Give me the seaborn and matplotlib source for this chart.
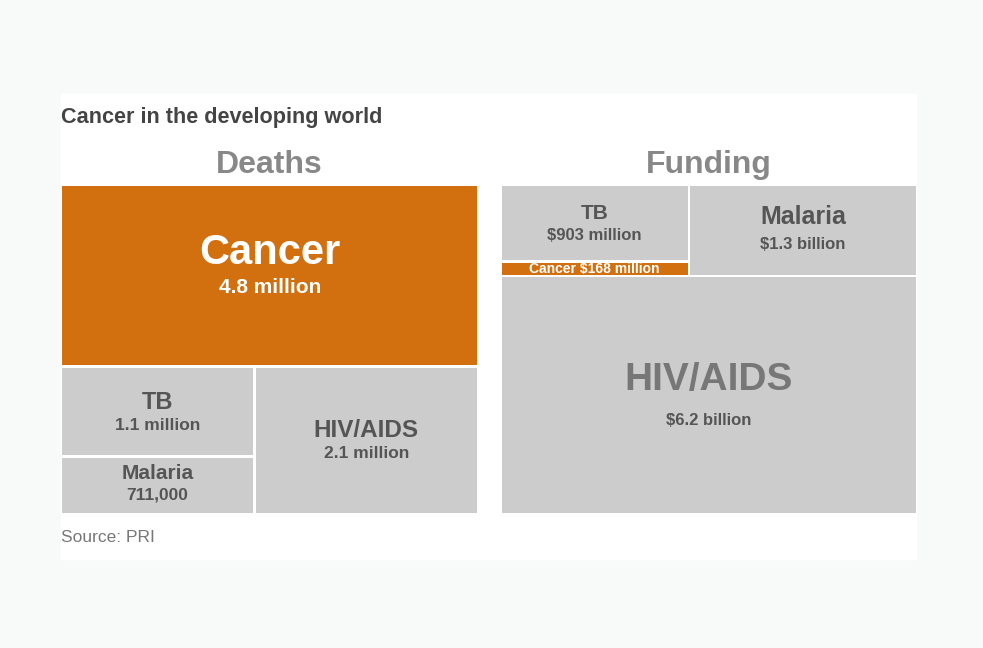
import matplotlib.pyplot as plt
import matplotlib.patches as mpatches
import seaborn as sns

# Dados
categorias = ['Cancer', 'TB', 'Malaria', 'HIV/AIDS']
mortes = [4.8, 1.1, 0.711, 2.1]               # milhoes
mortes_txt = ['4.8 million', '1.1 million', '711,000', '2.1 million']
financiamento = [0.168, 0.903, 1.3, 6.2]      # bilhoes de dolares
financ_txt = ['$168 million', '$903 million', '$1.3 billion', '$6.2 billion']

sns.set_theme(style="white")
plt.rcParams['font.family'] = ['Liberation Sans', 'DejaVu Sans']

LARANJA = '#D2700F'
CINZA = '#CCCCCC'
GAP = 2.5

fig = plt.figure(figsize=(9.83, 6.48), dpi=100)
fig.patch.set_facecolor('#F8FAFA')
ax = fig.add_axes([0, 0, 1, 1])
ax.set_xlim(0, 983)
ax.set_ylim(648, 0)
ax.axis('off')

# painel branco
ax.add_patch(mpatches.Rectangle((61, 94), 855, 465, color='white', zorder=0))


def caixa(x0, y0, x1, y1, cor):
    # desenha um retangulo com um pequeno espaco branco entre vizinhos
    ax.add_patch(mpatches.Rectangle((x0 + GAP / 2, y0 + GAP / 2),
                                    x1 - x0 - GAP, y1 - y0 - GAP,
                                    facecolor=cor, edgecolor='none', zorder=1))
    return (x0 + x1) / 2, (y0 + y1) / 2


def rotulo(cx, cy, nome, valor, dy_nome, dy_valor, tam_nome, tam_valor, cor_nome, cor_valor):
    ax.text(cx, cy + dy_nome, nome, ha='center', va='center', fontsize=tam_nome,
            fontweight='bold', color=cor_nome, zorder=2)
    ax.text(cx, cy + dy_valor, valor, ha='center', va='center', fontsize=tam_valor,
            fontweight='bold', color=cor_valor, zorder=2)


# ---------- Mortes ----------
X0, X1, Y0, Y1 = 61, 478.5, 184.5, 514.5
c, tb, mal, hiv = mortes
total = sum(mortes)
y_corte = Y0 + (Y1 - Y0) * c / total
x_corte = X0 + (X1 - X0) * (tb + mal) / (tb + mal + hiv)
y_corte2 = y_corte + (Y1 - y_corte) * tb / (tb + mal)

cx, cy = caixa(X0, Y0, X1, y_corte, LARANJA)
rotulo(cx, cy, categorias[0], mortes_txt[0], -22, 12, 30, 15, 'white', 'white')
cx, cy = caixa(X0, y_corte, x_corte, y_corte2, CINZA)
rotulo(cx, cy, categorias[1], mortes_txt[1], -9, 14, 17, 12.5, '#555555', '#555555')
cx, cy = caixa(X0, y_corte2, x_corte, Y1, CINZA)
rotulo(cx, cy, categorias[2], mortes_txt[2], -12, 10, 15, 12.5, '#555555', '#555555')
cx, cy = caixa(x_corte, y_corte, X1, Y1, CINZA)
rotulo(cx, cy, categorias[3], mortes_txt[3], -10, 13, 17.5, 12.5, '#555555', '#555555')

# ---------- Financiamento ----------
F0, F1 = 500.5, 917.5
fc, ftb, fmal, fhiv = financiamento
ftotal = sum(financiamento)
y_topo = Y0 + (Y1 - Y0) * (fc + ftb + fmal) / ftotal
x_meio = F0 + (F1 - F0) * (fc + ftb) / (fc + ftb + fmal)
y_tb = Y0 + (y_topo - Y0) * ftb / (ftb + fc)

cx, cy = caixa(F0, Y0, x_meio, y_tb, CINZA)
rotulo(cx, cy, categorias[1], financ_txt[1], -9, 13, 15, 12, '#555555', '#555555')
cx, cy = caixa(F0, y_tb, x_meio, y_topo, LARANJA)
ax.text(cx, cy + 0.5, f"{categorias[0]} {financ_txt[0]}", ha='center', va='center',
        fontsize=10, fontweight='bold', color='white', zorder=2)
cx, cy = caixa(x_meio, Y0, F1, y_topo, CINZA)
rotulo(cx, cy, categorias[2], financ_txt[2], -13, 14, 18, 12, '#555555', '#555555')
cx, cy = caixa(F0, y_topo, F1, Y1, CINZA)
rotulo(cx, cy, categorias[3], financ_txt[3], -15, 25, 28, 12, '#777777', '#555555')

# ---------- Titulos ----------
ax.text(61, 117, 'Cancer in the developing world', ha='left', va='center',
        fontsize=15.6, fontweight='bold', color='#444444')
ax.text((X0 + X1) / 2, 165, 'Deaths', ha='center', va='center',
        fontsize=23, fontweight='bold', color='#888888')
ax.text((F0 + F1) / 2, 165, 'Funding', ha='center', va='center',
        fontsize=23, fontweight='bold', color='#888888')
ax.text(61, 537, 'Source: PRI', ha='left', va='center', fontsize=12.5, color='#777777')

plt.savefig('out.png', dpi=100, facecolor=fig.get_facecolor())
